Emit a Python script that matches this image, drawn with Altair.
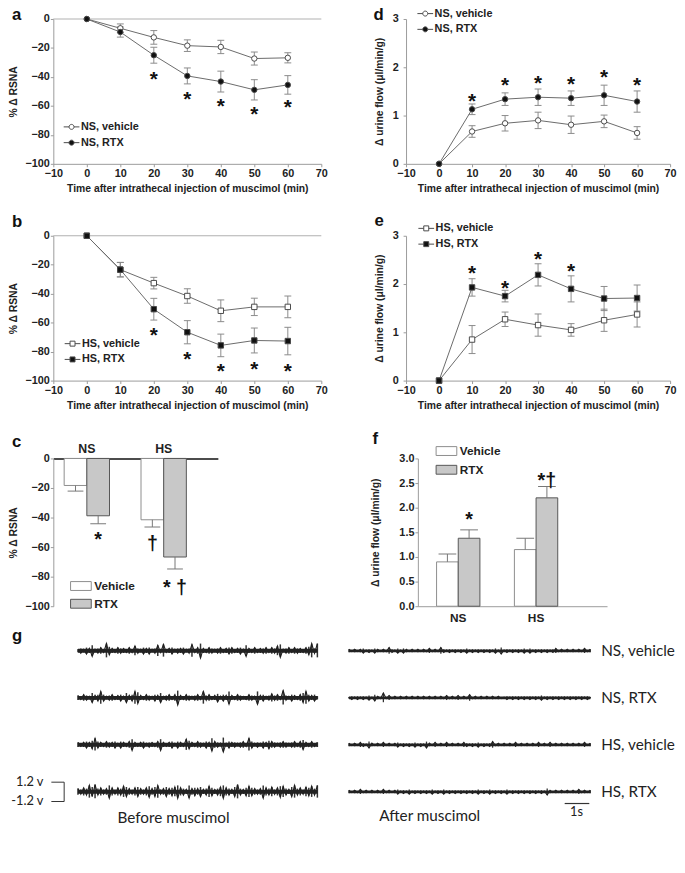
import altair as alt
import pandas as pd

FONT = "Liberation Sans"
TFONT = "Lato"

# ---------------- data ----------------
TIMES = [0, 10, 20, 30, 40, 50, 60]

a_veh = [0, -6.4, -12.7, -18.4, -19.3, -27.3, -26.8]
a_veh_err = [0, 3.0, 4.7, 4.0, 4.6, 4.5, 3.5]
a_rtx = [0, -9.0, -25.0, -39.3, -43.2, -48.9, -45.5]
a_rtx_err = [0, 3.5, 5.5, 5.5, 7.2, 7.0, 6.4]
a_star_t = [20, 30, 40, 50, 60]
a_star_y = [-38.9, -52.5, -57.5, -63.0, -58.0]

b_veh = [0, -23.4, -32.7, -41.6, -51.8, -49.1, -49.1]
b_veh_err = [0, 5.0, 4.0, 5.0, 7.5, 6.0, 7.5]
b_rtx = [0, -23.4, -50.7, -66.6, -75.7, -72.3, -72.7]
b_rtx_err = [0, 5.0, 7.5, 8.0, 7.8, 8.6, 9.5]
b_star_t = [20, 30, 40, 50, 60]
b_star_y = [-66.0, -82.5, -91.0, -89.3, -90.5]

d_veh = [0, 0.67, 0.84, 0.90, 0.81, 0.88, 0.64]
d_veh_err = [0, 0.12, 0.16, 0.17, 0.18, 0.13, 0.13]
d_rtx = [0, 1.13, 1.34, 1.38, 1.36, 1.42, 1.29]
d_rtx_err = [0, 0.11, 0.13, 0.17, 0.15, 0.21, 0.22]
d_star_t = [10, 20, 30, 40, 50, 60]
d_star_y = [1.39, 1.72, 1.75, 1.74, 1.87, 1.71]

e_veh = [0, 0.85, 1.27, 1.15, 1.05, 1.25, 1.37]
e_veh_err = [0, 0.29, 0.15, 0.23, 0.13, 0.23, 0.26]
e_rtx = [0, 1.93, 1.75, 2.19, 1.90, 1.70, 1.71]
e_rtx_err = [0, 0.18, 0.12, 0.23, 0.27, 0.25, 0.27]
e_star_t = [10, 20, 30, 40]
e_star_y = [2.30, 2.00, 2.59, 2.35]

GROUPS = ["NS", "HS"]
TREATS = ["Vehicle", "RTX"]
bar_group = ["NS", "NS", "HS", "HS"]
bar_treat = ["Vehicle", "RTX", "Vehicle", "RTX"]
c_mean = [-18.3, -38.8, -41.5, -66.7]
c_err_end = [-22.1, -44.2, -46.4, -74.8]
c_note_text = ["*", "\u2020", "* \u2020"]
c_note_group = ["NS", "HS", "HS"]
c_note_treat = ["RTX", "Vehicle", "RTX"]
c_note_y = [-52.9, -55.6, -85.3]

f_mean = [0.90, 1.38, 1.15, 2.20]
f_err_end = [1.06, 1.55, 1.38, 2.43]
f_note_text = ["*", "*\u2020"]
f_note_group = ["NS", "HS"]
f_note_treat = ["RTX", "RTX"]
f_note_y = [1.82, 2.63]

# nerve recordings: sample amplitudes (tenths of a volt), alternating polarity
TRACE_LABELS = ["NS, vehicle", "NS, RTX", "HS, vehicle", "HS, RTX"]
before_traces = [
    "2324372342953243324263243423728234233423824932432342344234273242334243682342433245939",
    "3243263484234234263487324324362342493243234283423524383243224328342353429324324684342",
    "3234358432433424324732342332473234243275324324384329243323428423243543234323424632423",
    "4354869453485354764356435746834645685438454634753468543694357543485463577436845365748",
]
after_traces = [
    "2121231213212142131321212121312142121212131212121213141212121313121212123121212121312",
    "1212121314216131212121212121212121312131214121212121211212121212121312121212121212121",
    "2121321421213121231212131214213121312121321213121241212121312121213121312121212121312",
    "2121312121213121231213121212131213121212121213121312121312121212121214212121212131212",
]
BEFORE_DUR = 9.72
AFTER_DUR = 9.8
ROW_V = [0, -5.84, -11.67, -17.51]

XTITLE = "Time after intrathecal injection of muscimol (min)"
LINE_CIRCLE = "M-1.33,0H-0.42M0.42,0H1.33M0.42,0A0.42,0.42,0,1,1,-0.42,0A0.42,0.42,0,1,1,0.42,0Z"
LINE_SQUARE = "M-1.33,0H-0.42M0.42,0H1.33M-0.42,-0.42H0.42V0.42H-0.42Z"
BOX = "M-1.75,-0.75H1.75V0.75H-1.75Z"


def series_frame(veh, veh_err, rtx, rtx_err, labels):
    rows = []
    for name, means, errs in ((labels[0], veh, veh_err), (labels[1], rtx, rtx_err)):
        for t, m, e in zip(TIMES, means, errs):
            rows.append({"t": t, "mean": m, "lo": m - e, "hi": m + e, "err": e, "series": name})
    return pd.DataFrame(rows)


def letter_layer(letter, lx, ly):
    return alt.Chart(pd.DataFrame({"label": [letter]})).mark_text(
        font=FONT, fontWeight="bold", fontSize=17, align="left", baseline="top", color="#111"
    ).encode(text="label:N", x=alt.value(lx), y=alt.value(ly))


def line_panel(df, star_t, star_y, labels, shape, sym_path, ydom, yvals, yfmt, ytitle,
               width, cell_h, plot_h, y_tp, y_lp, leg_x, leg_y, letter, lx, ly, zero_line):
    xs = alt.Scale(domain=[-10, 70], nice=False, zero=False)
    ys = alt.Scale(domain=ydom, range=[plot_h, 0], nice=False, zero=False)
    XA = alt.Axis(values=list(range(-10, 71, 10)), title=XTITLE, offset=-(cell_h - plot_h),
                  labelFlush=False, titlePadding=5, labelPadding=1)
    YA = alt.Axis(values=yvals, format=yfmt, title=ytitle, titlePadding=y_tp, labelPadding=y_lp)

    def X():
        return alt.X("t:Q", scale=xs, axis=XA)

    def Y(f):
        return alt.Y(f"{f}:Q", scale=ys, axis=YA)

    base = alt.Chart(df)
    layers = []
    if zero_line:
        layers.append(alt.Chart(pd.DataFrame({"t": [-10], "t2": [70], "v": [0]})).mark_rule(
            color="#b0b0b0", strokeWidth=1).encode(x=X(), x2="t2:Q", y=Y("v")))
    errs = base.transform_filter("datum.err > 0")
    layers.append(errs.mark_rule(color="#8a8a8a", strokeWidth=1).encode(x=X(), y=Y("lo"), y2="hi:Q"))
    for fld in ("lo", "hi"):
        layers.append(errs.mark_tick(color="#8a8a8a", orient="horizontal", size=7, thickness=1,
                                     opacity=1).encode(x=X(), y=Y(fld)))
    layers.append(base.mark_line(color="#6a6a6a", strokeWidth=1).encode(x=X(), y=Y("mean"),
                                                                          detail="series:N"))
    layers.append(base.mark_point(shape=shape, size=30, filled=True, opacity=1, stroke="#4a4a4a",
                                  strokeWidth=1).encode(
        x=X(), y=Y("mean"),
        fill=alt.Fill("series:N", scale=alt.Scale(domain=labels, range=["white", "#111111"]),
                      legend=alt.Legend(title=None, orient="none", legendX=leg_x, legendY=leg_y,
                                        symbolType=sym_path, symbolSize=144, symbolStrokeColor="#4a4a4a",
                                        symbolStrokeWidth=1, labelFont=FONT, labelFontWeight="bold",
                                        labelFontSize=11, labelColor="#222", rowPadding=4,
                                        labelOffset=3, padding=0))))
    stars = pd.DataFrame({"t": star_t, "y": star_y, "s": ["*"] * len(star_t)})
    layers.append(alt.Chart(stars).mark_text(font=FONT, fontWeight="bold", fontSize=21, baseline="middle",
                                             dy=5, color="#111").encode(x=X(), y=Y("y"), text="s:N"))
    layers.append(letter_layer(letter, lx, ly))
    return alt.layer(*layers).properties(width=width, height=cell_h)


def bar_panel(means, err_end, notes, note_group, note_treat, note_y, ydom, yvals, yfmt, ytitle,
              width, x_range, cell_h, plot_h, top_axis, p_in, p_out, b_align, y_off, y_tp,
              leg_x, leg_y, rowpad, letter, lx, ly, cap):
    df = pd.DataFrame({"group": bar_group, "treat": bar_treat, "mean": means, "err": err_end})
    sc = dict(domain=GROUPS, paddingInner=p_in, paddingOuter=p_out, align=b_align)
    if x_range is not None:
        sc["range"] = x_range
    xs = alt.Scale(**sc)
    xo = alt.XOffset("treat:N", scale=alt.Scale(domain=TREATS, paddingInner=0, paddingOuter=0))
    ys = alt.Scale(domain=ydom, range=[plot_h, 0], nice=False, zero=False)
    if top_axis:
        XA = alt.Axis(orient="top", title=None, ticks=False, labelAngle=0, domainColor="#111",
                      domainWidth=1.5, labelFontSize=12.5, labelPadding=3)
    else:
        XA = alt.Axis(orient="bottom", title=None, ticks=False, labelAngle=0, labelFontSize=12,
                      labelPadding=7, offset=-(cell_h - plot_h))
    YA = alt.Axis(values=yvals, format=yfmt, title=ytitle, titlePadding=y_tp, offset=y_off)

    def X():
        return alt.X("group:N", scale=xs, axis=XA)

    def Y(f):
        return alt.Y(f"{f}:Q", scale=ys, axis=YA)

    base = alt.Chart(df)
    bars = base.mark_bar(strokeWidth=1).encode(
        x=X(), xOffset=xo, y=Y("mean"), y2=alt.Y2(datum=0),
        fill=alt.Fill("treat:N", scale=alt.Scale(domain=TREATS, range=["white", "#c8c8c8"]),
                      legend=alt.Legend(title=None, orient="none", legendX=leg_x, legendY=leg_y,
                                        symbolType=BOX, symbolSize=144, symbolStrokeColor="#666",
                                        symbolStrokeWidth=1, labelFont=FONT, labelFontWeight="bold",
                                        labelFontSize=12, labelColor="#222", rowPadding=rowpad,
                                        labelOffset=7, padding=0)),
        stroke=alt.Stroke("treat:N", scale=alt.Scale(domain=TREATS, range=["#8c8c8c", "#555555"]),
                          legend=None))
    erule = base.mark_rule(color="#777", strokeWidth=1).encode(x=X(), xOffset=xo, y=Y("mean"), y2="err:Q")
    ecap = base.mark_tick(color="#777", orient="horizontal", size=cap, thickness=1, opacity=1).encode(
        x=X(), xOffset=xo, y=Y("err"))
    ndf = pd.DataFrame({"group": note_group, "treat": note_treat, "y": note_y, "s": notes})
    note = alt.Chart(ndf).mark_text(font=FONT, fontWeight="bold", fontSize=20, baseline="middle",
                                    dy=4, color="#111").encode(x=X(), xOffset=xo, y=Y("y"), text="s:N")
    return alt.layer(bars, erule, ecap, note, letter_layer(letter, lx, ly)).properties(
        width=width, height=cell_h)


def trace_frame(traces, dur):
    rows = []
    for r, s in enumerate(traces):
        n = len(s)
        for i, ch in enumerate(s):
            sign = 1 if i % 2 == 0 else -1
            amp = int(ch) / 10
            rows.append({"trace": r, "i": i, "t": i * dur / (n - 1), "v": ROW_V[r] + sign * amp,
                         "top": ROW_V[r] + amp, "bot": ROW_V[r] - amp * 0.9})
    return pd.DataFrame(rows)


G_Y = alt.Scale(domain=[-21.5, 2.97], nice=False, zero=False)


def text_layer(texts, ts, vs, xs, size, align, font=TFONT, weight="normal"):
    d = pd.DataFrame({"s": texts, "t": ts, "v": vs})
    return alt.Chart(d).mark_text(font=font, fontSize=size, align=align, baseline="middle",
                                  color="#222", fontWeight=weight).encode(
        x=alt.X("t:Q", scale=xs, axis=None), y=alt.Y("v:Q", scale=G_Y, axis=None), text="s:N")


def trace_layers(traces, dur, xs, core, spike_w):
    df = trace_frame(traces, dur)
    base = alt.Chart(df)
    spikes = base.mark_rule(color="#333", strokeWidth=spike_w).encode(
        x=alt.X("t:Q", scale=xs, axis=None), y=alt.Y("top:Q", scale=G_Y, axis=None), y2="bot:Q")
    zig = base.mark_line(color="#1e1e1e", strokeWidth=1.1).encode(
        x=alt.X("t:Q", scale=xs, axis=None), y=alt.Y("v:Q", scale=G_Y, axis=None),
        detail="trace:N", order="i:Q")
    cdf = pd.DataFrame({"r": list(range(4)), "v": ROW_V})
    core_l = alt.Chart(cdf).mark_rule(color="#222", strokeWidth=core).encode(
        x=alt.X(datum=0, scale=xs, axis=None), x2=alt.X2(datum=dur),
        y=alt.Y("v:Q", scale=G_Y, axis=None))
    return [spikes, zig, core_l]


# ---------------- panels ----------------
a_df = series_frame(a_veh, a_veh_err, a_rtx, a_rtx_err, ["NS, vehicle", "NS, RTX"])
b_df = series_frame(b_veh, b_veh_err, b_rtx, b_rtx_err, ["HS, vehicle", "HS, RTX"])
d_df = series_frame(d_veh, d_veh_err, d_rtx, d_rtx_err, ["NS, vehicle", "NS, RTX"])
e_df = series_frame(e_veh, e_veh_err, e_rtx, e_rtx_err, ["HS, vehicle", "HS, RTX"])

RSNA_TICKS = [-100, -80, -60, -40, -20, 0]
URINE_TITLE = "\u0394 urine flow (\u03bcl/min/g)"

pa = line_panel(a_df, a_star_t, a_star_y, ["NS, vehicle", "NS, RTX"], "circle", LINE_CIRCLE,
                [-100, 0], RSNA_TICKS, "d", "% \u0394 RSNA", 272, 220, 147, 7, 1, 12, 103,
                "a", -42, -12, True)
pd_ = line_panel(d_df, d_star_t, d_star_y, ["NS, vehicle", "NS, RTX"], "circle", LINE_CIRCLE,
                 [0, 3], [0, 1, 2, 3], "d", URINE_TITLE, 268, 220, 147, 8, 5, 13, -12,
                 "d", -33, -12, False)
pb = line_panel(b_df, b_star_t, b_star_y, ["HS, vehicle", "HS, RTX"], "square", LINE_SQUARE,
                [-100, 0], RSNA_TICKS, "d", "% \u0394 RSNA", 272, 226, 147, 7, 1, 13, 103,
                "b", -42, -22, True)
pe = line_panel(e_df, e_star_t, e_star_y, ["HS, vehicle", "HS, RTX"], "square", LINE_SQUARE,
                [0, 3], [0, 1, 2, 3], "d", URINE_TITLE, 268, 226, 147, 8, 5, 14, -14,
                "e", -32, -23, False)
pc = bar_panel(c_mean, c_err_end, c_note_text, c_note_group, c_note_treat, c_note_y,
               [-100, 0], RSNA_TICKS, "d", "% \u0394 RSNA", 167, None, 171, 150, True,
               0.41, 0.2756, 0.256, 0, 7, 21.5, 123, 5, "c", -42, -25, 16)
pf = bar_panel(f_mean, f_err_end, f_note_text, f_note_group, f_note_treat, f_note_y,
               [0, 3], [0, 0.5, 1, 1.5, 2, 2.5, 3], ".1f", URINE_TITLE, 204, [12, 204], 171, 150, False,
               0.443, 0.437, 0.275, -12, 19, 34.5, -14, 6, "f", -34, -28, 18)

# recordings
L_X = alt.Scale(domain=[-1.0, 9.88], nice=False, zero=False)
R_X = alt.Scale(domain=[2.32, 13.2], nice=False, zero=False)

r4 = ROW_V[3]
bracket = alt.Chart(pd.DataFrame({"t1": [-1.08, -1.08, -0.56], "t2": [-0.56, -0.56, -0.56],
                                  "v1": [r4 + 1.2, r4 - 1.2, r4 + 1.2],
                                  "v2": [r4 + 1.2, r4 - 1.2, r4 - 1.2]})).mark_rule(
    color="#333", strokeWidth=1).encode(
    x=alt.X("t1:Q", scale=L_X, axis=None), x2="t2:Q",
    y=alt.Y("v1:Q", scale=G_Y, axis=None), y2="v2:Q")
volt_txt = text_layer(["1.2 v", "-1.2 v"], [-1.4, -1.4], [r4 + 1.2, r4 - 1.2], L_X, 13, "right")
before_txt = text_layer(["Before muscimol"], [3.88], [r4 - 3.3], L_X, 15.5, "center")
g_letter = letter_layer("g", -42, 1)
gL = alt.layer(*trace_layers(before_traces, BEFORE_DUR, L_X, 4.0, 1.5), bracket, volt_txt, before_txt,
               g_letter).properties(width=272, height=200)

labels_txt = text_layer(TRACE_LABELS, [10.24] * 4, ROW_V, R_X, 15.5, "left")
scalebar = alt.Chart(pd.DataFrame({"t1": [8.76], "t2": [9.76], "v": [r4 - 1.45]})).mark_rule(
    color="#333", strokeWidth=1.2).encode(
    x=alt.X("t1:Q", scale=R_X, axis=None), x2="t2:Q", y=alt.Y("v:Q", scale=G_Y, axis=None))
sec_txt = text_layer(["1s"], [9.24], [r4 - 2.55], R_X, 13, "center")
after_txt = text_layer(["After muscimol"], [3.28], [r4 - 2.95], R_X, 15.5, "center")
gR = alt.layer(*trace_layers(after_traces, AFTER_DUR, R_X, 2.8, 1.3), labels_txt, scalebar, sec_txt,
               after_txt).properties(width=272, height=200)

chart = alt.concat(pa, pd_, pb, pe, pc, pf, gL, gR, columns=2,
                   spacing={"row": 0, "column": 86}, bounds="flush", align="each").resolve_scale(
    x="independent", y="independent", fill="independent", stroke="independent", xOffset="independent"
).resolve_axis(x="independent", y="independent").resolve_legend(
    fill="independent", stroke="independent"
).properties(
    padding={"left": 0, "top": -8, "right": 0, "bottom": 0}, background="white"
).configure_view(stroke=None).configure_axis(
    grid=False, domainColor="#9a9a9a", tickColor="#9a9a9a", tickSize=3,
    labelFont=FONT, labelFontWeight="bold", labelFontSize=11, labelColor="#222", labelPadding=1,
    titleFont=FONT, titleFontWeight="bold", titleFontSize=10.5, titleColor="#222")

chart.save("out.html", embed_options={"renderer": "svg", "actions": False})
